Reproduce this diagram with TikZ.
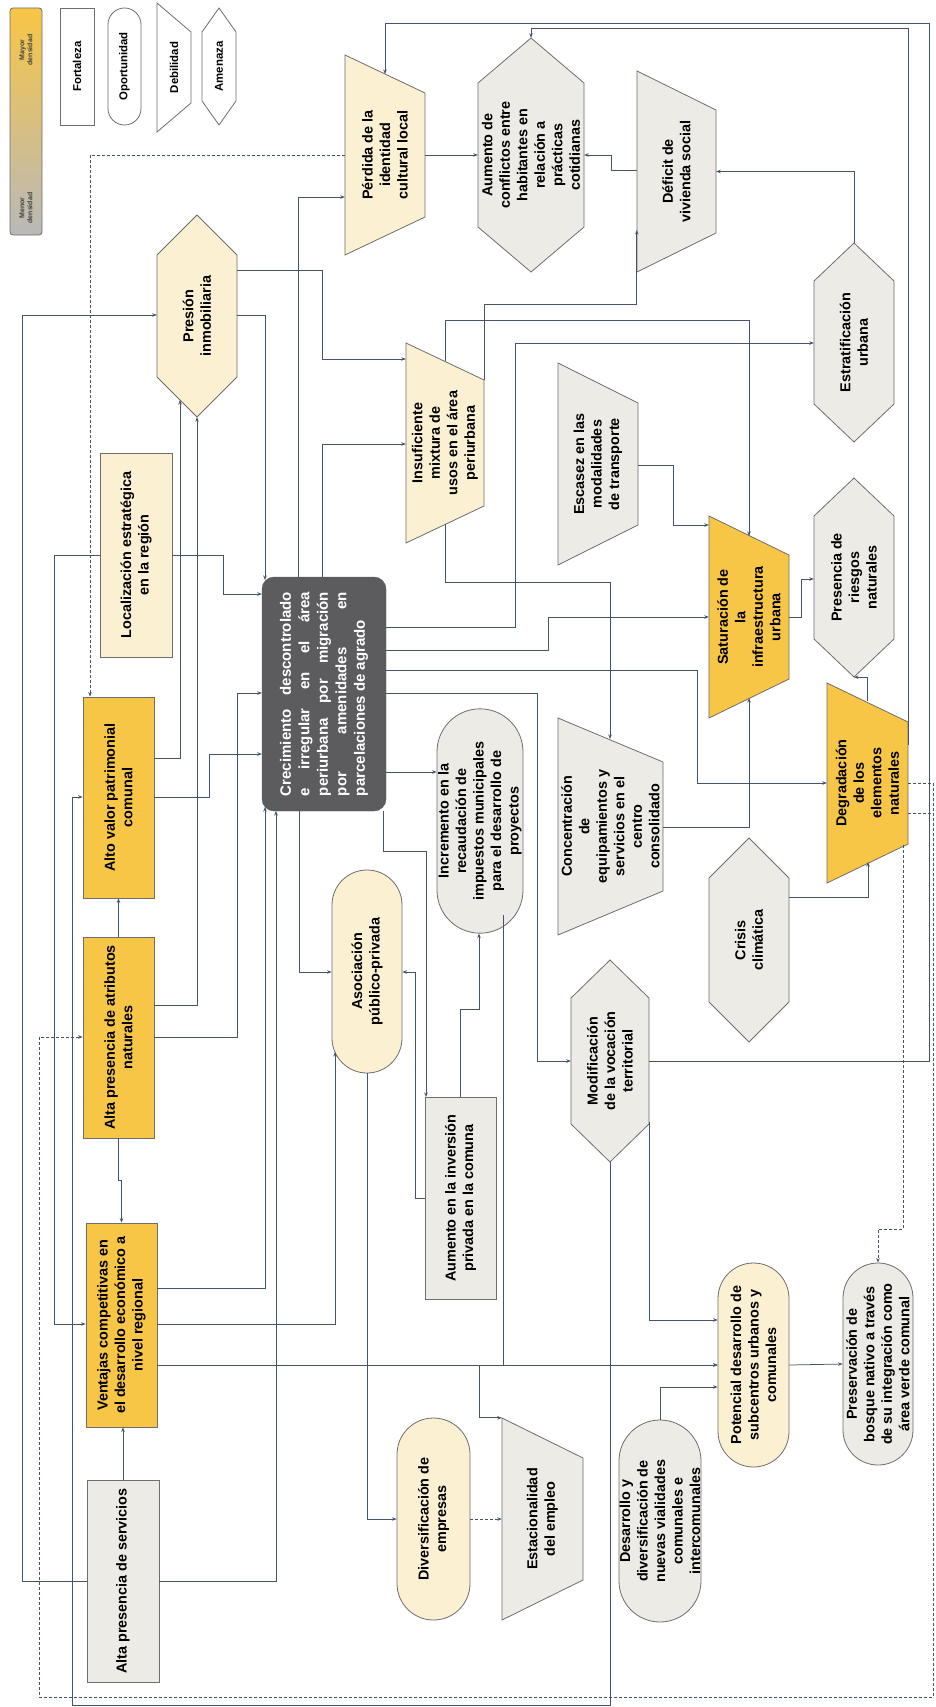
\documentclass[tikz,border=0pt]{standalone}
\usepackage{fontspec}
\setmainfont{Liberation Sans}
\usetikzlibrary{shapes.misc,arrows.meta,calc}
\definecolor{dy}{HTML}{F8C646}
\definecolor{ly}{HTML}{FCF0D3}
\definecolor{gy}{HTML}{EDEBE5}
\definecolor{cg}{HTML}{5C5C5E}
\definecolor{edgecol}{HTML}{6E6E6E}
\definecolor{lc}{HTML}{44546A}
\newcommand{\legfont}{\bfseries\fontsize{11.4}{13}\selectfont}
\tikzset{
  lbl/.style={font=\bfseries\fontsize{14.4}{17.5}\selectfont, align=center, rotate=90, inner sep=0pt, text=black},
  box/.style={lbl, draw=edgecol, line width=0.8pt},
  stad/.style={box, rounded rectangle},
  shp/.style={draw=edgecol, line width=0.8pt},
  arr/.style={draw=lc, line width=0.75pt, -{Stealth[length=4.5pt,width=3.5pt]}},
  dsh/.style={arr, dash pattern=on 3pt off 2pt},
}
\newcommand{\rectnode}[7]{\node[box,minimum width={#5-#3},minimum height={#4-#2},#6] (#1) at ({(#2+#4)/2},{-(#3+#5)/2}) {#7};}
\newcommand{\stadnode}[7]{\node[stad,minimum width={#5-#3},minimum height={#4-#2},#6] (#1) at ({(#2+#4)/2},{-(#3+#5)/2}) {#7};}
\newcommand{\trapnode}[8]{%
  \filldraw[shp, fill=#7] (#2,-#3) -- (#4,{-(#3+#6)}) -- (#4,{-(#5-#6)}) -- (#2,-#5) -- cycle;
  \node[lbl, minimum width={#5-#3}, minimum height={#4-#2}] (#1) at ({(#2+#4)/2},{-(#3+#5)/2}) {#8};}
\newcommand{\hexnode}[8]{%
  \filldraw[shp, fill=#7] ({(#2+#4)/2},-#3) -- (#4,{-(#3+#6)}) -- (#4,{-(#5-#6)}) -- ({(#2+#4)/2},-#5) -- (#2,{-(#5-#6)}) -- (#2,{-(#3+#6)}) -- cycle;
  \node[lbl, minimum width={#5-#3}, minimum height={#4-#2}] (#1) at ({(#2+#4)/2},{-(#3+#5)/2}) {#8};}
\begin{document}
\begin{tikzpicture}[x=1pt,y=1pt]
\useasboundingbox (0,0) rectangle (936,-1707);
\fill[white] (0,0) rectangle (936,-1707);

% legend
\node[draw=edgecol, line width=0.8pt, rounded corners=3pt, top color=dy, bottom color=gray!55, minimum width=32, minimum height=227, inner sep=0pt] (legbar) at (26,-121.5) {};
\node[lbl, font=\bfseries\fontsize{7}{8}\selectfont, text=black!75] (legmax) at (26,-50) {Mayor\\densidad};
\node[lbl, font=\bfseries\fontsize{7}{8}\selectfont, text=black!75] (legmin) at (26,-208) {Menor\\densidad};
\rectnode{lf}{60}{8}{94}{125}{fill=white,font=\legfont}{Fortaleza}
\stadnode{lo}{108}{8}{141}{125}{fill=white,font=\legfont}{Oportunidad}
\trapnode{ld}{157}{3}{191}{132}{29}{white}{\legfont Debilidad}
\hexnode{la}{202}{8}{236}{125}{24}{white}{\legfont Amenaza}

% rectangles
\rectnode{loc}{100}{453}{172}{657}{fill=ly}{Localización estratégica\\en la región}
\rectnode{alto}{83}{697}{154}{898}{fill=dy}{Alto valor patrimonial\\comunal}
\rectnode{atri}{83}{937}{154}{1138}{fill=dy}{Alta presencia de atributos\\naturales}
\rectnode{vent}{86}{1223}{157}{1427}{fill=dy}{Ventajas competitivas en\\el desarrollo económico a\\nivel regional}
\rectnode{serv}{87}{1480}{159}{1682}{fill=gy}{Alta presencia de servicios}
\rectnode{inv}{425}{1097}{496}{1299}{fill=gy}{Aumento en la inversión\\privada en la comuna}

% central node
\node[lbl, rounded corners=12pt, draw=cg, fill=cg, text=white, font=\bfseries\fontsize{15}{18.5}\selectfont, text width=204pt, align=justify, minimum width=234, minimum height=124] (crec) at (324,-694) {Crecimiento descontrolado\linebreak e irregular en el área\linebreak periurbana por migración\linebreak por amenidades en\linebreak parcelaciones de agrado};

% stadiums
\stadnode{incr}{437}{720}{523}{922}{fill=gy}{Incremento en la\\recaudación de\\impuestos municipales\\para el desarrollo de\\proyectos}
\stadnode{asoc}{332}{870}{402}{1073}{fill=ly}{Asociación\\público-privada}
\stadnode{dive}{397}{1418}{470}{1620}{fill=ly}{Diversificación de\\empresas}
\stadnode{desa}{619}{1420}{701}{1622}{fill=gy}{Desarrollo y\\diversificación de\\nuevas vialidades\\comunales e\\intercomunales}
\stadnode{pote}{718}{1263}{789}{1467}{fill=ly}{Potencial desarrollo de\\subcentros urbanos y\\comunales}
\stadnode{pres2}{843}{1263}{913}{1465}{fill=gy}{Preservación de\\bosque nativo a través\\de su integración como\\área verde comunal}

% trapezoids
\trapnode{perd}{345}{55}{425}{255}{38}{ly}{Pérdida de la\\identidad\\cultural local}
\trapnode{def}{637}{71}{716}{272}{39}{gy}{Déficit de\\vivienda social}
\trapnode{insu}{406}{343}{484}{543}{37}{ly}{Insuficiente\\mixtura de\\usos en el área\\periurbana}
\trapnode{esc}{558}{363}{638}{565}{40}{gy}{Escasez en las\\modalidades\\de transporte}
\trapnode{sat}{709}{516}{789}{718}{39}{dy}{Saturación de\\la\\infraestructura\\urbana}
\trapnode{conc}{558}{718}{663}{935}{44}{gy}{Concentración\\de\\equipamientos y\\servicios en el\\centro\\consolidado}
\trapnode{degr}{827}{683}{908}{883}{39}{dy}{Degradación\\de los\\elementos\\naturales}
\trapnode{esta}{502}{1418}{583}{1620}{40}{gy}{Estacionalidad\\del empleo}

% hexagons
\hexnode{conf}{478}{38}{584}{272}{45}{gy}{Aumento de\\conflictos entre\\habitantes en\\relación a\\prácticas\\cotidianas}
\hexnode{estr}{814}{243}{894}{442}{38}{gy}{Estratificación\\urbana}
\hexnode{pres}{157}{215}{237}{417}{40}{ly}{Presión\\inmobiliaria}
\hexnode{ries}{814}{478}{894}{677}{38}{gy}{Presencia de\\riesgos\\naturales}
\hexnode{crisis}{709}{838}{789}{1042}{40}{gy}{Crisis\\climática}
\hexnode{modi}{571}{960}{649}{1162}{38}{gy}{Modificación\\de la vocación\\territorial}

% connectors
\draw[arr] (serv.north) -| (22,-315) -- (pres.north |- 0,-315);
\draw[arr] (serv.east) -- (serv.east |- vent.west);
\draw[arr] (serv.south) -| (276,-811);
\draw[arr] (vent.south |- 0,-1288) -| (265,-807);
\draw[arr] (vent.south |- 0,-1324) -| (335,-1052);
\draw[arr] (vent.south |- 0,-1365) -- (pote.north |- 0,-1365);
\draw[arr] (479,-1365) |- (esta.north east);
\draw[arr] (atri.east) -- (alto.west);
\draw[arr] (atri.west) -- ++(0,-42) -| (vent.east);
\draw[arr] (atri.south |- 0,-1005) -| (pres.west);
\draw[arr] (atri.south |- 0,-1037) -| (237,-693) -- (crec.north |- 0,-693);
\draw[arr] (alto.south |- 0,-758) -| (180,-400);
\draw[arr] (alto.south |- 0,-797) -| (209,-754) -- (crec.north |- 0,-754);
\draw[arr] (loc.south |- 0,-555) -| (223,-594) -- (crec.north |- 0,-594);
\draw[arr] (loc.north |- 0,-555) -| (54,-1324) -- (vent.north |- 0,-1324);
\draw[arr] (modi.west) -- (610,-1705) -| (72,-797) -- (alto.north |- 0,-797);
\draw[dsh] (perd.north |- 0,-155) -| (alto.east -| 90,0);
\draw[dsh] (degr.south |- 0,-783) -- (933,-783) -- (933,-1697) -- (39,-1697) -- (39,-1037) -- (atri.north |- 0,-1037);
\draw[dsh,-] (degr.south |- 0,-813) -- (933,-813);
\draw[dsh] (903,-845) -- (903,-1229) -| (pres2.east);
\draw[arr] (degr.south |- 0,-745) |- (conf.east |- 0,-28) -- (conf.east);
\draw[arr] (modi.south) -| (929,-23) -| (385,-74);
\draw[arr] (perd.south) -- (conf.north);
\draw[arr] (def.north |- 0,-170) -| (611,-155) -- (conf.south);
\draw[arr] (estr.east) |- (def.south);
\draw[arr] (insu.south |- 0,-380) |- (def.north |- 0,-304) -- (def.north |- 0,-230);
\draw[arr] (445,-361) |- (749,-320) -- (749,-536);
\draw[arr] (445,-524) |- (610,-582) -- (610,-739);
\draw[arr] (pres.south |- 0,-270) -| (322,-359) -- (insu.north |- 0,-359);
\draw[arr] (pres.south |- 0,-315) -| (265,-580);
\draw[arr] (crec.east -| 322,0) |- (insu.north |- 0,-444);
\draw[arr] (crec.east -| 298,0) |- (perd.north |- 0,-197);
\draw[arr] (crec.south |- 0,-627) -| (515,-343) -- (estr.north |- 0,-343);
\draw[arr] (crec.south |- 0,-650) -| (548,-617) -- (sat.north |- 0,-617);
\draw[arr] (crec.south |- 0,-670) -| (697,-783) -- (degr.north |- 0,-783);
\draw[arr] (crec.south |- 0,-693) -| (537,-1061) -- (modi.north |- 0,-1061);
\draw[arr] (crec.south |- 0,-772) -- (incr.north |- 0,-772);
\draw[arr] (crec.west -| 299,0) |- (asoc.north |- 0,-972);
\draw[arr] (crec.west -| 383,0) -- (383,-851) -| (426,-1097);
\draw[arr] (inv.north |- 0,-1198) -| (415,-972) -- (asoc.south |- 0,-972);
\draw[arr] (inv.east -| 460,0) -- (460,-1009) -| (incr.west -| 479,0);
\draw[arr] (503,-915) -- (503,-1365) -- (pote.north |- 0,-1365);
\draw[arr] (asoc.west) |- (dive.north);
\draw[dsh] (dive.south) -- (esta.north);
\draw[arr] (desa.east) |- (pote.north |- 0,-1387);
\draw[arr] (modi.south |- 0,-1122) |- (pote.north |- 0,-1320);
\draw[arr] (pote.south) -- (pres2.north);
\draw[arr] (esc.south |- 0,-465) -| (673,-525) -- (sat.north |- 0,-525);
\draw[arr] (conc.south |- 0,-827) -| (749,-698);
\draw[arr] (sat.south |- 0,-617) -| (801,-579) -- (ries.north |- 0,-579);
\draw[arr] (867,-701) |- (ries.west);
\draw[arr] (crisis.south |- 0,-897) -| (868,-862);
\end{tikzpicture}
\end{document}
